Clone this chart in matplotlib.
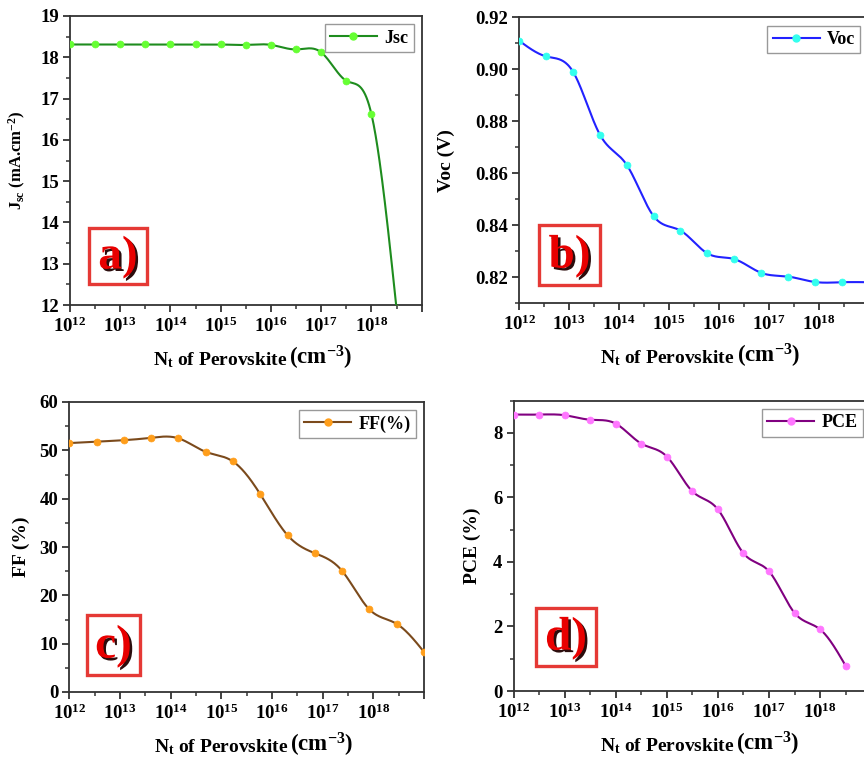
import matplotlib
matplotlib.use('Agg')
import matplotlib.pyplot as plt
import numpy as np
from matplotlib.ticker import FixedLocator, NullFormatter, FixedFormatter, MultipleLocator, FormatStrFormatter
from matplotlib.lines import Line2D
from matplotlib.patches import Rectangle
import matplotlib.patheffects as pe

plt.rcParams['font.family'] = ['Liberation Serif', 'DejaVu Serif']
plt.rcParams['font.weight'] = 'bold'
plt.rcParams['mathtext.fontset'] = 'custom'
plt.rcParams['mathtext.rm'] = 'Liberation Serif:bold'
plt.rcParams['mathtext.bf'] = 'Liberation Serif:bold'
plt.rcParams['mathtext.it'] = 'Liberation Serif:italic:bold'

# ---------------- data (x given as log10 of Nt, cm^-3) ----------------
jsc_exp = [12.0, 12.5, 13.0, 13.5, 14.0, 14.5, 15.0, 15.5, 16.0, 16.5, 17.0, 17.5, 18.0, 18.5]
jsc = [18.31, 18.31, 18.31, 18.31, 18.31, 18.31, 18.31, 18.30, 18.30, 18.19, 18.12, 17.43, 16.62, 11.9]

voc_exp = [12.00, 12.54, 13.08, 13.62, 14.15, 14.69, 15.23, 15.77, 16.31, 16.85, 17.38, 17.92, 18.46, 19.00]
voc = [0.911, 0.905, 0.899, 0.8747, 0.8633, 0.8435, 0.8379, 0.8291, 0.8269, 0.8216, 0.8202, 0.8181, 0.8180, 0.8180]

ff_exp = [12.00, 12.54, 13.08, 13.62, 14.15, 14.69, 15.23, 15.77, 16.31, 16.85, 17.38, 17.92, 18.46, 19.00]
ff = [51.5, 51.8, 52.1, 52.6, 52.5, 49.7, 47.7, 40.9, 32.4, 28.7, 25.1, 17.1, 14.1, 8.3]

pce_exp = [12.0, 12.5, 13.0, 13.5, 14.0, 14.5, 15.0, 15.5, 16.0, 16.5, 17.0, 17.5, 18.0, 18.5]
pce = [8.57, 8.57, 8.55, 8.41, 8.29, 7.67, 7.27, 6.19, 5.63, 4.27, 3.71, 2.42, 1.91, 0.78]

tick_exps = [12, 13, 14, 15, 16, 17, 18]


def spline(x, y, n=500):
    x = np.asarray(x, float)
    y = np.asarray(y, float)
    m = len(x)
    h = np.diff(x)
    A = np.zeros((m, m))
    r = np.zeros(m)
    A[0, 0] = 1
    A[-1, -1] = 1
    for i in range(1, m - 1):
        A[i, i - 1] = h[i - 1]
        A[i, i] = 2 * (h[i - 1] + h[i])
        A[i, i + 1] = h[i]
        r[i] = 3 * ((y[i + 1] - y[i]) / h[i] - (y[i] - y[i - 1]) / h[i - 1])
    c = np.linalg.solve(A, r)
    b = (y[1:] - y[:-1]) / h - h * (c[1:] + 2 * c[:-1]) / 3
    d = (c[1:] - c[:-1]) / (3 * h)
    xs = np.linspace(x[0], x[-1], n)
    idx = np.clip(np.searchsorted(x, xs) - 1, 0, m - 2)
    dx = xs - x[idx]
    ys = y[idx] + b[idx] * dx + c[idx] * dx ** 2 + d[idx] * dx ** 3
    return xs, ys


W, H = 864, 758
fig = plt.figure(figsize=(W / 100, H / 100), dpi=100)


def px_axes(l, r, t, b):
    return fig.add_axes([l / W, 1 - b / H, (r - l) / W, (b - t) / H])


def panel(ax, exps, vals, lc, mc, name, ylim, major, minor, yfmt, ylabel, ylab_x,
          ylab_size, tag, box, ax_h_px):
    xs, ys = spline(exps, vals)
    ax.plot(10 ** xs, ys, color=lc, lw=1.5, zorder=3)
    ax.plot(10 ** np.array(exps), vals, ls='none', marker='o', ms=5, mfc=mc, mec=mc,
            mew=0.5, zorder=4)
    ax.set_xscale('log')
    ax.set_xlim(1e12, 1e19)
    ax.set_ylim(*ylim)
    ax.xaxis.set_major_locator(FixedLocator([10.0 ** k for k in range(12, 20)]))
    ax.xaxis.set_major_formatter(FixedFormatter(
        [r'$\mathbf{10^{%d}}$' % k for k in tick_exps] + ['']))
    ax.xaxis.set_minor_locator(FixedLocator([10.0 ** (k + 0.5) for k in range(12, 19)]))
    ax.xaxis.set_minor_formatter(NullFormatter())
    ax.yaxis.set_major_locator(MultipleLocator(major))
    ax.yaxis.set_minor_locator(MultipleLocator(minor))
    ax.yaxis.set_major_formatter(FormatStrFormatter(yfmt))
    for s in ax.spines.values():
        s.set_linewidth(1.3)
        s.set_color('#333333')
    ax.tick_params(which='major', direction='out', length=5, width=1.3, color='#333333',
                   labelsize=13.5, pad=3)
    ax.tick_params(which='minor', direction='out', length=3, width=1.1, color='#333333')
    ax.tick_params(axis='y', labelsize=13.5)
    ax.tick_params(top=False, right=False, which='both')
    for lab in ax.get_yticklabels():
        lab.set_fontweight('bold')
    ax.set_ylabel(ylabel, fontsize=ylab_size, fontweight='bold')
    ax.yaxis.set_label_coords(ylab_x, 0.5)
    yb = -60.0 / ax_h_px
    ax.text(0.617, yb, r'N$_{\mathbf{t}}$ of Perovskite', transform=ax.transAxes,
            ha='right', va='baseline', fontsize=14, fontweight='bold')
    ax.text(0.623, yb, r'(cm$^{\mathbf{-3}}$)', transform=ax.transAxes,
            ha='left', va='baseline', fontsize=16.5, fontweight='bold')
    handle = Line2D([], [], color=lc, lw=1.5, marker='o', ms=5, mfc=mc, mec=mc)
    leg = ax.legend([handle], [name], loc='upper right', frameon=True, fancybox=False,
                    edgecolor='#999999', framealpha=1, handlelength=2.6,
                    prop={'weight': 'bold', 'size': 13}, borderpad=0.3,
                    handletextpad=0.4, borderaxespad=0.45)
    leg.get_frame().set_linewidth(1.0)
    cx, cy, w, h = box
    ax.add_patch(Rectangle((cx - w / 2, cy - h / 2), w, h, transform=ax.transAxes,
                           fill=False, ec='#e53935', lw=2.4, zorder=5))
    ax.text(cx, cy - 0.005, tag, transform=ax.transAxes, ha='center', va='center',
            color='#e80000', fontsize=34, fontweight='bold', zorder=6,
            path_effects=[pe.withSimplePatchShadow(offset=(1.8, -1.8),
                                                   shadow_rgbFace='#200000', alpha=0.95)])


axa = px_axes(70, 421.7, 16, 305)
panel(axa, jsc_exp, jsc, '#1e8c1e', '#66ff33', 'Jsc', (12, 19), 1, 0.5, '%d',
      r'J$_{\mathbf{sc}}$ (mA.cm$^{\mathbf{-2}}$)', -0.118, 12, 'a)',
      (0.1365, 0.170, 0.165, 0.194), 289)

axb = px_axes(519.3, 868.6, 17.5, 303)
panel(axb, voc_exp, voc, '#2222ff', '#33ffee', 'Voc', (0.81, 0.92), 0.02, 0.01, '%.2f',
      'Voc (V)', -0.185, 14, 'b)', (0.1437, 0.168, 0.1746, 0.210), 285.5)

axc = px_axes(69.3, 424, 402, 692)
panel(axc, ff_exp, ff, '#7b4a1c', '#ff9e1b', 'FF(%)', (0, 60), 10, 5, '%d',
      'FF (%)', -0.11, 14, 'c)', (0.1246, 0.162, 0.149, 0.207), 290)

axd = px_axes(513.5, 871.2, 400.7, 691)
panel(axd, pce_exp, pce, '#800080', '#ff77ff', 'PCE', (0, 9), 2, 1, '%d',
      'PCE (%)', -0.092, 14, 'd)', (0.1468, 0.186, 0.168, 0.200), 290.3)

fig.savefig('out.png', dpi=100)
